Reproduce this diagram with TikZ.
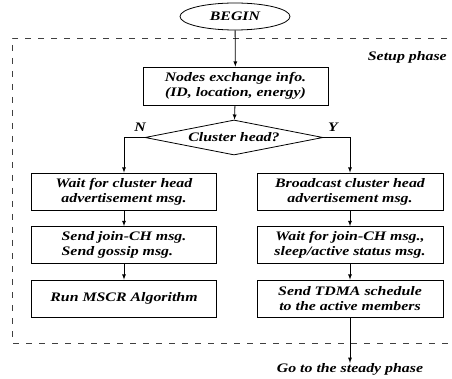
\documentclass[tikz,border=0pt]{standalone}
\usepackage{fontspec}
\setmainfont[FakeStretch=1.22]{Liberation Serif}
\usepackage{tikz}
\usetikzlibrary{positioning,shapes,arrows,calc}

\begin{document}
\begin{tikzpicture}[x=1pt, y=-1pt,
        step box/.style={rectangle, draw, line width=0.8pt, minimum width=185pt, minimum height=37pt, align=center, inner sep=1pt, font=\itshape\bfseries\fontsize{13}{15}\selectfont},
        start/.style={ellipse, draw, line width=0.8pt, minimum width=110pt, minimum height=27pt, inner sep=0pt, font=\itshape\bfseries\fontsize{13}{15}\selectfont},
        decision/.style={diamond, draw, line width=0.8pt, aspect=5, minimum width=178pt, minimum height=35pt, inner sep=0pt, font=\itshape\bfseries\fontsize{13}{15}\selectfont},
        lbl/.style={font=\itshape\bfseries\fontsize{13}{15}\selectfont, inner sep=0pt},
        arrow/.style={->, >=latex, line width=0.8pt}
    ]
    \useasboundingbox (0,0) rectangle (452,379);

    % Setup phase frame (open on the right)
    \draw[line width=0.8pt, black!75, dash pattern=on 6pt off 7pt] (460,38) -- (12,38) -- (12,343) -- (460,343);
    \node[lbl, anchor=east] (setup) at (447,57) {Setup phase};

    % Start and common part
    \node[start] (begin) at (235,16.5) {BEGIN};
    \node[step box, minimum height=38pt] (exch) at (235.5,86) {Nodes exchange info.\\(ID, location, energy)};
    \node[decision] (ch) at (234,137.5) {Cluster head?};

    % Non cluster head branch
    \node[step box] (wait) at (124,191.5) {Wait for cluster head\\advertisement msg.};
    \node[step box, align=left] (join) at (124,245) {Send join-CH msg.\\Send gossip msg.};
    \node[step box] (mscr) at (124,298.5) {Run MSCR Algorithm};

    % Cluster head branch
    \node[step box, minimum width=186pt] (bcast) at (350,191.5) {Broadcast cluster head\\advertisement msg.};
    \node[step box, minimum width=186pt] (waitjoin) at (350,245) {Wait for join-CH msg.,\\sleep/active status msg.};
    \node[step box, minimum width=186pt] (tdma) at (350,298.5) {Send TDMA schedule\\to the active members};

    \node[lbl] (steady) at (350,369) {Go to the steady phase};

    % Arrows
    \draw[arrow] (begin) -- (exch);
    \draw[arrow] (exch) -- (ch);
    \draw[arrow] (ch.west) -| (wait.north);
    \draw[arrow] (ch.east) -| (bcast.north);
    \draw[arrow] (wait) -- (join);
    \draw[arrow] (join) -- (mscr);
    \draw[arrow] (bcast) -- (waitjoin);
    \draw[arrow] (waitjoin) -- (tdma);
    \draw[arrow] (tdma) -- (steady);

    % Branch labels
    \node[lbl] (no) at (140,127) {N};
    \node[lbl] (yes) at (333,127) {Y};

\end{tikzpicture}
\end{document}
